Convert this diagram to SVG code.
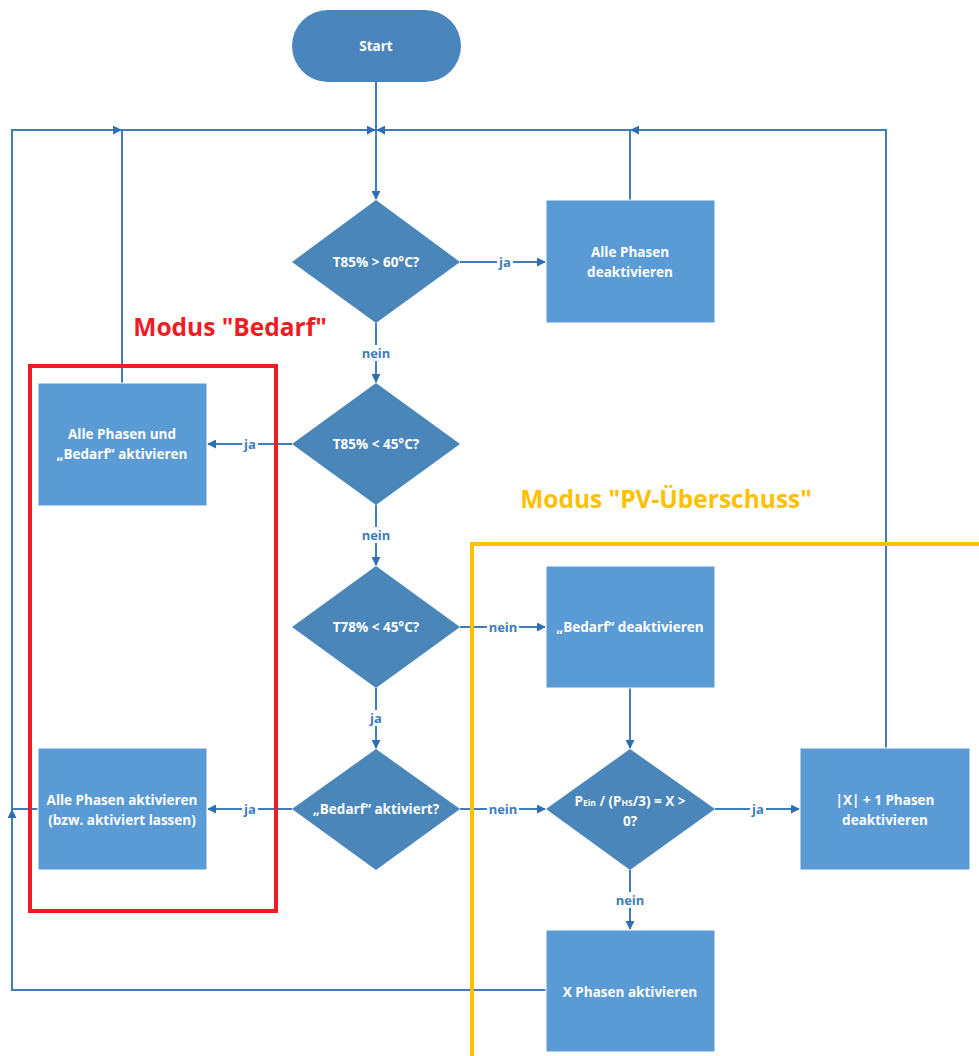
<svg xmlns="http://www.w3.org/2000/svg" width="979" height="1056" viewBox="0 0 979 1056">
  <defs>
    <marker id="arr" viewBox="0 0 10 10" refX="9" refY="5" markerWidth="4.5" markerHeight="4.5" orient="auto" markerUnits="strokeWidth">
      <path d="M0,0 L10,5 L0,10 z" fill="#2F6FB0"/>
    </marker>
    <style>
      .ln { fill: none; stroke: #3F7CBC; stroke-width: 2; }
      .box { fill: #5B9BD5; stroke: #ffffff; stroke-width: 1; }
      .dia { fill: #4A86BA; }
      .t { font-family: "Open Sans", "Liberation Sans", sans-serif; font-size: 13.5px; font-weight: 700; fill: #ffffff; text-anchor: middle; }
      .sub { font-size: 8.5px; }
      .lbl { font-family: "Open Sans", "Liberation Sans", sans-serif; font-size: 13px; font-weight: 700; fill: #3F7CBC; text-anchor: middle; }
      .mode { font-family: "Open Sans", "Liberation Sans", sans-serif; font-size: 24.5px; font-weight: 700; }
    </style>
  </defs>

  <!-- connectors -->
  <g id="connectors">
    <path class="ln" d="M376,82 V199" marker-end="url(#arr)"/>
    <path class="ln" d="M122,383 V130 H375" marker-end="url(#arr)"/>
    <path class="ln" d="M38,809 H12 V130 H121" marker-end="url(#arr)"/>
    <path class="ln" d="M546,990 H12 V810" marker-end="url(#arr)"/>
    <path class="ln" d="M630,200 V130 H377" marker-end="url(#arr)"/>
    <path class="ln" d="M886,748 V130 H631" marker-end="url(#arr)"/>
    <path class="ln" d="M376,323 V382" marker-end="url(#arr)"/>
    <path class="ln" d="M376,505 V565" marker-end="url(#arr)"/>
    <path class="ln" d="M376,688 V748" marker-end="url(#arr)"/>
    <path class="ln" d="M460,262 H545" marker-end="url(#arr)"/>
    <path class="ln" d="M292,444 H208" marker-end="url(#arr)"/>
    <path class="ln" d="M460,627 H545" marker-end="url(#arr)"/>
    <path class="ln" d="M292,809 H208" marker-end="url(#arr)"/>
    <path class="ln" d="M460,809 H545" marker-end="url(#arr)"/>
    <path class="ln" d="M630,688 V748" marker-end="url(#arr)"/>
    <path class="ln" d="M715,809 H799" marker-end="url(#arr)"/>
    <path class="ln" d="M630,870 V929" marker-end="url(#arr)"/>
    <!-- connector labels on white backing -->
    <g>
      <rect x="497" y="254" width="16" height="16" fill="#ffffff"/>
      <text class="lbl" x="505" y="267">ja</text>
      <rect x="360" y="345" width="32" height="16" fill="#ffffff"/>
      <text class="lbl" x="376" y="358">nein</text>
      <rect x="242" y="436" width="16" height="16" fill="#ffffff"/>
      <text class="lbl" x="250" y="449">ja</text>
      <rect x="360" y="527" width="32" height="16" fill="#ffffff"/>
      <text class="lbl" x="376" y="540">nein</text>
      <rect x="487" y="619" width="32" height="16" fill="#ffffff"/>
      <text class="lbl" x="503" y="632">nein</text>
      <rect x="368" y="710" width="16" height="16" fill="#ffffff"/>
      <text class="lbl" x="376" y="723">ja</text>
      <rect x="242" y="801" width="16" height="16" fill="#ffffff"/>
      <text class="lbl" x="250" y="814">ja</text>
      <rect x="487" y="801" width="32" height="16" fill="#ffffff"/>
      <text class="lbl" x="503" y="814">nein</text>
      <rect x="750" y="801" width="16" height="16" fill="#ffffff"/>
      <text class="lbl" x="758" y="814">ja</text>
      <rect x="614" y="892" width="32" height="16" fill="#ffffff"/>
      <text class="lbl" x="630" y="905">nein</text>
    </g>
  </g>

  <!-- mode frames -->
  <g id="mode-bedarf">
    <rect x="30" y="366" width="246" height="545" fill="none" stroke="#EE1C25" stroke-width="4"/>
    <text class="mode" x="230" y="336" fill="#EE1C25" text-anchor="middle">Modus "Bedarf"</text>
  </g>
  <g id="mode-pv">
    <path d="M472,1060 V544 H985" fill="none" stroke="#FFC000" stroke-width="4"/>
    <text class="mode" x="666" y="508" fill="#FFC000" text-anchor="middle">Modus "PV-Überschuss"</text>
  </g>

  <!-- nodes -->
  <g id="start">
    <rect x="292" y="10" width="169" height="72" rx="36" ry="36" fill="#4A86BD"/>
    <text class="t" x="376" y="51">Start</text>
  </g>
  <g id="d-t85-60">
    <polygon class="dia" points="376,200 460,262 376,323 292,262"/>
    <text class="t" x="376" y="267">T85% &gt; 60°C?</text>
  </g>
  <g id="b-alle-deakt">
    <rect class="box" x="546" y="200" width="169" height="123"/>
    <text class="t" x="630" y="257">Alle Phasen</text>
    <text class="t" x="630" y="277">deaktivieren</text>
  </g>
  <g id="d-t85-45">
    <polygon class="dia" points="376,383 460,444 376,505 292,444"/>
    <text class="t" x="376" y="449">T85% &lt; 45°C?</text>
  </g>
  <g id="b-alle-bedarf">
    <rect class="box" x="38" y="383" width="169" height="123"/>
    <text class="t" x="122" y="439">Alle Phasen und</text>
    <text class="t" x="122" y="459">„Bedarf“ aktivieren</text>
  </g>
  <g id="d-t78-45">
    <polygon class="dia" points="376,566 460,627 376,688 292,627"/>
    <text class="t" x="376" y="632">T78% &lt; 45°C?</text>
  </g>
  <g id="b-bedarf-deakt">
    <rect class="box" x="546" y="566" width="169" height="122"/>
    <text class="t" x="630" y="632">„Bedarf“ deaktivieren</text>
  </g>
  <g id="d-bedarf">
    <polygon class="dia" points="376,749 460,809 376,870 292,809"/>
    <text class="t" x="376" y="814">„Bedarf“ aktiviert?</text>
  </g>
  <g id="b-alle-akt">
    <rect class="box" x="38" y="748" width="169" height="122"/>
    <text class="t" x="122" y="805">Alle Phasen aktivieren</text>
    <text class="t" x="122" y="825">(bzw. aktiviert lassen)</text>
  </g>
  <g id="d-pv">
    <polygon class="dia" points="630,749 715,809 630,870 546,809"/>
    <text class="t" x="630" y="806">P<tspan class="sub">Ein</tspan> / (P<tspan class="sub">HS</tspan>/3) = X &gt;</text>
    <text class="t" x="630" y="826">0?</text>
  </g>
  <g id="b-x1-deakt">
    <rect class="box" x="800" y="748" width="170" height="122"/>
    <text class="t" x="885" y="805">|X| + 1 Phasen</text>
    <text class="t" x="885" y="825">deaktivieren</text>
  </g>
  <g id="b-x-akt">
    <rect class="box" x="546" y="930" width="169" height="122"/>
    <text class="t" x="630" y="997">X Phasen aktivieren</text>
  </g>
</svg>
